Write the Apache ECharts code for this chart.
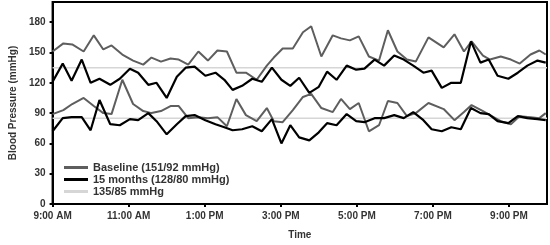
<!DOCTYPE html>
<html>
<head>
<meta charset="utf-8">
<script src="https://cdn.jsdelivr.net/npm/echarts@6/dist/echarts.min.js"></script>
<style>
  html, body { margin: 0; padding: 0; background: #fff; }
  #chart { width: 550px; height: 245px; }
</style>
</head>
<body>
<div id="chart"></div>
<script>
// Ambulatory readings (clock time, mmHg).
const baselineTimes = [
  "9:00", "9:17", "9:31", "9:49", "10:05", "10:20", "10:33", "10:50", "11:07", "11:23",
  "11:36", "11:51", "12:06", "12:19", "12:34", "12:50", "13:05", "13:20", "13:35", "13:50",
  "14:05", "14:22", "14:38", "14:49", "15:03", "15:19", "15:35", "15:48", "16:04", "16:22",
  "16:35", "16:49", "17:03", "17:19", "17:35", "17:49", "18:04", "18:19", "18:33", "18:53",
  "19:17", "19:34", "19:49", "20:01", "20:19", "20:30", "20:47", "21:03", "21:17", "21:34",
  "21:48", "21:58"
];
const baselineSys = [
  151, 159, 158, 151, 167, 153, 157, 148, 142, 138,
  145, 141, 144, 143, 138, 151, 142, 152, 151, 130,
  130, 123, 137, 145, 154, 154, 170, 176, 146, 167,
  164, 162, 166, 146, 142, 172, 151, 143, 141, 165,
  155, 168, 151, 161, 147, 143, 146, 143, 139, 148,
  152, 148
];
const baselineDia = [
  89, 93, 99, 105, 97, 90, 89, 123, 99, 92,
  90, 92, 97, 97, 85, 86, 85, 86, 77, 104,
  88, 82, 95, 82, 81, 93, 106, 109, 95, 91,
  104, 94, 100, 72, 78, 102, 100, 87, 90, 100,
  94, 83, 91, 98, 92, 88, 82, 79, 87, 86,
  85, 90
];

const monthsTimes = [
  "9:00", "9:16", "9:30", "9:46", "10:00", "10:14", "10:31", "10:46", "11:02", "11:15",
  "11:31", "11:44", "12:00", "12:16", "12:30", "12:44", "13:01", "13:17", "13:31", "13:44",
  "13:59", "14:15", "14:30", "14:46", "15:01", "15:15", "15:29", "15:45", "16:00", "16:13",
  "16:28", "16:44", "16:59", "17:12", "17:28", "17:43", "17:59", "18:14", "18:29", "18:45",
  "18:58", "19:14", "19:29", "19:44", "20:00", "20:15", "20:28", "20:42", "20:59", "21:14",
  "21:29", "21:45", "21:58"
];
const monthsSys = [
  121, 139, 122, 143, 120, 124, 118, 124, 134, 130,
  118, 120, 105, 126, 135, 136, 127, 130, 123, 113,
  117, 124, 121, 135, 123, 117, 125, 110, 116, 131,
  123, 137, 133, 134, 143, 137, 147, 143, 137, 130,
  132, 115, 120, 120, 161, 140, 143, 127, 124, 130,
  137, 142, 140
];
const monthsDia = [
  72, 85, 86, 86, 73, 103, 79, 78, 84, 83,
  90, 82, 69, 79, 87, 88, 83, 79, 76, 73,
  74, 77, 72, 84, 60, 78, 66, 63, 71, 80,
  78, 89, 82, 81, 85, 85, 88, 85, 91, 83,
  74, 72, 76, 74, 95, 90, 89, 82, 80, 87,
  85, 84, 83
];

const targetSys = 135;
const targetDia = 85;
const seriesNames = ["Baseline (151/92 mmHg)", "15 months (128/80 mmHg)", "135/85 mmHg"];
const yTicks = [0, 30, 60, 90, 120, 150, 180];
const xTickLabels = ["9:00 AM", "11:00 AM", "1:00 PM", "3:00 PM", "5:00 PM", "7:00 PM", "9:00 PM"];

const START_HOUR = 9;
const END_HOUR = 22;
// hours since 9:00, so the x axis can start at 0 with a 2 h interval
const hrs = (t) => {
  const [h, m] = t.split(":").map(Number);
  return h + m / 60 - START_HOUR;
};
const pairs = (times, vals) => times.map((t, i) => [hrs(t), vals[i]]);

const GRAY = "#5e5e5e";
const BLACK = "#000000";
const REF = "#d6d6d6";
const FONT = "'Liberation Sans', Arial, sans-serif";

const chart = echarts.init(document.getElementById("chart"), null, { renderer: "canvas" });

const lineSeries = (name, color, width, data, z) => ({
  name, type: "line", data, z,
  color,
  symbol: "none",
  lineStyle: { color, width },
  animation: false,
});

chart.setOption({
  animation: false,
  grid: {
    left: 43, right: 3, top: 2, bottom: 37,
    show: true, borderColor: "#000", borderWidth: 2, backgroundColor: "transparent",
  },
  legend: {
    data: seriesNames,
    orient: "vertical",
    left: 59, top: 157,
    icon: "rect",
    itemWidth: 24, itemHeight: 3, itemGap: 1,
    textStyle: { fontFamily: FONT, fontSize: 11, fontWeight: "bold", color: "#333" },
  },
  xAxis: {
    type: "value",
    min: 0, max: END_HOUR - START_HOUR, interval: 2,
    name: "Time",
    nameLocation: "middle",
    nameGap: 26,
    nameTextStyle: { fontFamily: FONT, fontSize: 10, fontWeight: "bold", color: "#333" },
    axisLine: { lineStyle: { color: "#000", width: 2 } },
    axisTick: { show: true, length: 3, inside: false, lineStyle: { color: "#000", width: 2 } },
    axisLabel: {
      fontFamily: FONT, fontSize: 10, fontWeight: "bold", color: "#333", margin: 7,
      showMaxLabel: false,
      formatter: (v) => xTickLabels[v / 2] ?? "",
    },
    splitLine: { show: false },
  },
  yAxis: {
    type: "value",
    min: yTicks[0], max: 200, interval: yTicks[1] - yTicks[0],
    name: "Blood Pressure (mmHg)",
    nameLocation: "middle",
    nameGap: 27,
    nameTextStyle: { fontFamily: FONT, fontSize: 10, fontWeight: "bold", color: "#333" },
    axisLine: { show: true, lineStyle: { color: "#000", width: 2 } },
    axisTick: { show: true, length: 3, lineStyle: { color: "#000", width: 2 } },
    axisLabel: {
      fontFamily: FONT, fontSize: 10, fontWeight: "bold", color: "#333", margin: 7,
      showMaxLabel: false,
      formatter: (v) => (yTicks.includes(v) ? String(v) : ""),
    },
    splitLine: { show: false },
  },
  series: [
    lineSeries(seriesNames[2], REF, 1.5, [[0, targetSys], [END_HOUR - START_HOUR, targetSys]], 1),
    lineSeries(seriesNames[2], REF, 1.5, [[0, targetDia], [END_HOUR - START_HOUR, targetDia]], 1),
    lineSeries(seriesNames[0], GRAY, 2, pairs(baselineTimes, baselineSys), 2),
    lineSeries(seriesNames[0], GRAY, 2, pairs(baselineTimes, baselineDia), 2),
    lineSeries(seriesNames[1], BLACK, 2.2, pairs(monthsTimes, monthsSys), 3),
    lineSeries(seriesNames[1], BLACK, 2.2, pairs(monthsTimes, monthsDia), 3),
  ],
});
</script>
</body>
</html>
